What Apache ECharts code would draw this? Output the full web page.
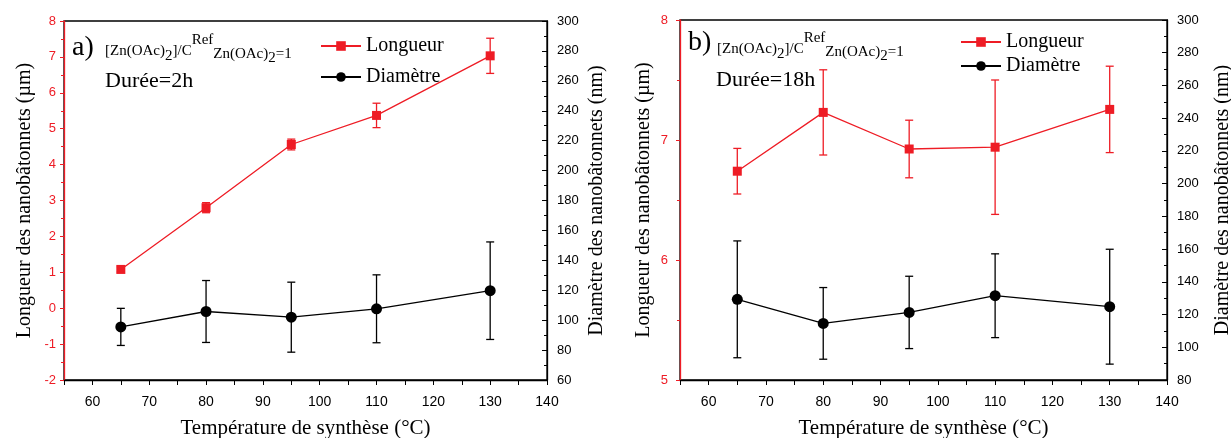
<!DOCTYPE html>
<html><head><meta charset="utf-8">
<script src="https://cdn.jsdelivr.net/npm/echarts@6/dist/echarts.min.js"></script>
<style>html,body{margin:0;padding:0;background:#fff}#c{width:1231px;height:438px}</style>
</head><body><div id="c"></div>
<script>
// ---- data ----
const temperatures = [65, 80, 95, 110, 130];
const longueur2h = [1.08, 2.80, 4.56, 5.37, 7.03];
const longueur2hErr = [0.07, 0.14, 0.15, 0.34, 0.49];
const diametre2h = [95.5, 105.8, 102, 107.6, 119.7];
const diametre2hErr = [12.4, 20.7, 23.4, 22.7, 32.6];
const longueur18h = [6.74, 7.23, 6.925, 6.94, 7.255];
const longueur18hErr = [0.19, 0.355, 0.24, 0.56, 0.36];
const diametre18h = [129.3, 114.6, 121.3, 131.5, 124.8];
const diametre18hErr = [35.7, 21.9, 22.1, 25.6, 35.1];
// axis ranges / tick labels
const xRange = [55, 140], xLabelStep = 10, xTickStep = 5;
const yLeftA = [-2, 8, 1], yRightA = [60, 300, 20];
const yLeftB = [5, 8, 1], yRightB = [80, 300, 20];
const legendNames = ['Longueur', 'Diamètre'];
const durations = ['Durée=2h', 'Durée=18h'];
const panelLetters = ['a)', 'b)'];
// formula pieces: text and vertical offset (sub/superscript)
const formulaPieces = [['[Zn(OAc)', 0], ['2', 5], [']/C', 0], ['Ref', -11], ['Zn(OAc)', 3], ['2', 7], ['=1', 3]];

const RED = '#ee1c25', BLACK = '#000';
const SERIF = '"Liberation Serif", "DejaVu Serif", serif';
const SANS = '"Liberation Sans", Arial, sans-serif';

function xAxis(grid) {
  return {
    type: 'value', gridIndex: grid, min: xRange[0], max: xRange[1], interval: xTickStep,
    name: 'Température de synthèse (°C)', nameLocation: 'middle', nameGap: 38,
    nameTextStyle: {fontFamily: SERIF, fontSize: 21, color: BLACK},
    axisLine: {show: true, onZero: false, lineStyle: {color: BLACK, width: 1.3}},
    axisTick: {show: true, inside: false, length: 5, lineStyle: {color: BLACK}},
    axisLabel: {color: BLACK, fontFamily: SANS, fontSize: 14, margin: 15,
      formatter: v => (v % xLabelStep === 0 ? String(v) : '')},
    splitLine: {show: false}
  };
}
function yAxis(grid, range, pos, color, name, gap, margin) {
  return {
    type: 'value', gridIndex: grid, position: pos, min: range[0], max: range[1], interval: range[2],
    name: name, nameLocation: 'middle', nameGap: gap, nameRotate: 90,
    nameTextStyle: {fontFamily: SERIF, fontSize: 20, color: BLACK},
    axisLine: {show: true, onZero: false, lineStyle: {color: color, width: 1.3}},
    axisTick: {show: true, inside: pos === 'right', length: pos === 'right' ? 5 : 4, lineStyle: {color: color}},
    minorTick: {show: true, splitNumber: 2, length: 3, lineStyle: {color: color}},
    axisLabel: {color: color, fontFamily: SANS, fontSize: 13, margin: margin},
    splitLine: {show: false}, minorSplitLine: {show: false}
  };
}
function errRender(color) {
  return function (params, api) {
    const x = api.value(0), lo = api.value(1), hi = api.value(2);
    const p1 = api.coord([x, hi]), p2 = api.coord([x, lo]);
    const w = 4;
    const style = {stroke: color, lineWidth: 1.3};
    return {type: 'group', children: [
      {type: 'line', shape: {x1: p1[0], y1: p1[1], x2: p2[0], y2: p2[1]}, style},
      {type: 'line', shape: {x1: p1[0] - w, y1: p1[1], x2: p1[0] + w, y2: p1[1]}, style},
      {type: 'line', shape: {x1: p2[0] - w, y1: p2[1], x2: p2[0] + w, y2: p2[1]}, style}
    ]};
  };
}
function errData(vals, errs) {
  return temperatures.map((t, i) => [t, vals[i] - errs[i], vals[i] + errs[i]]);
}
function pts(vals) { return temperatures.map((t, i) => [t, vals[i]]); }

function series(xi, yL, yR, L, Le, D, De) {
  return [
    {type: 'custom', xAxisIndex: xi, yAxisIndex: yL, renderItem: errRender(RED),
      data: errData(L, Le), encode: {x: 0, y: [1, 2]}, z: 2, silent: true},
    {type: 'custom', xAxisIndex: xi, yAxisIndex: yR, renderItem: errRender(BLACK),
      data: errData(D, De), encode: {x: 0, y: [1, 2]}, z: 2, silent: true},
    {type: 'line', name: legendNames[0], xAxisIndex: xi, yAxisIndex: yL, data: pts(L),
      symbol: 'rect', symbolSize: 9, lineStyle: {color: RED, width: 1.3},
      itemStyle: {color: RED}, z: 3, animation: false},
    {type: 'line', name: legendNames[1], xAxisIndex: xi, yAxisIndex: yR, data: pts(D),
      symbol: 'circle', symbolSize: 11, lineStyle: {color: BLACK, width: 1.3},
      itemStyle: {color: BLACK}, z: 3, animation: false}
  ];
}

const measureCtx = document.createElement('canvas').getContext('2d');
function formula(x, yc, size) {
  measureCtx.font = size + 'px ' + SERIF;
  const out = [];
  let cx = x;
  formulaPieces.forEach(([t, dy]) => {
    out.push({type: 'text', x: cx, y: yc + dy, silent: true,
      style: {text: t, fontFamily: SERIF, fontSize: size, fill: BLACK, verticalAlign: 'middle', align: 'left'}});
    cx += measureCtx.measureText(t).width;
  });
  return out;
}
function label(txt, x, y, size) {
  return {type: 'text', left: x, top: y, silent: true,
    style: {text: txt, fontFamily: SERIF, fontSize: size, fill: BLACK}};
}

const chart = echarts.init(document.getElementById('c'), null, {renderer: 'canvas'});
chart.setOption({
  animation: false,
  backgroundColor: '#fff',
  grid: [
    {left: 64, right: 684, top: 21, bottom: 58, show: true, borderColor: BLACK, borderWidth: 1.3,
      backgroundColor: 'transparent', containLabel: false, outerBoundsMode: 'none'},
    {left: 680, right: 64, top: 20, bottom: 58, show: true, borderColor: BLACK, borderWidth: 1.3,
      backgroundColor: 'transparent', containLabel: false, outerBoundsMode: 'none'}
  ],
  xAxis: [xAxis(0), xAxis(1)],
  yAxis: [
    yAxis(0, yLeftA, 'left', RED, 'Longueur des nanobâtonnets (µm)', 29, 8),
    yAxis(0, yRightA, 'right', BLACK, 'Diamètre des nanobâtonnets (nm)', 40, 10),
    yAxis(1, yLeftB, 'left', RED, 'Longueur des nanobâtonnets (µm)', 26, 12),
    yAxis(1, yRightB, 'right', BLACK, 'Diamètre des nanobâtonnets (nm)', 46, 10)
  ],
  legend: [
    {data: legendNames, orient: 'vertical', left: 315, top: 31, itemWidth: 40, itemHeight: 12, itemGap: 11,
      textStyle: {fontFamily: SERIF, fontSize: 20, color: BLACK, lineHeight: 20}, selectedMode: false},
    {data: legendNames, orient: 'vertical', left: 955, top: 27, itemWidth: 40, itemHeight: 12, itemGap: 4,
      textStyle: {fontFamily: SERIF, fontSize: 20, color: BLACK, lineHeight: 20}, selectedMode: false}
  ],
  graphic: [].concat(
    [label(panelLetters[0], 72, 34, 28), label(durations[0], 105, 70, 22)],
    formula(105, 51, 15),
    [label(panelLetters[1], 688, 29, 28), label(durations[1], 716, 69, 22)],
    formula(717, 49, 15)
  ),
  series: [].concat(
    series(0, 0, 1, longueur2h, longueur2hErr, diametre2h, diametre2hErr),
    series(1, 2, 3, longueur18h, longueur18hErr, diametre18h, diametre18hErr)
  )
});
</script>
</body></html>
